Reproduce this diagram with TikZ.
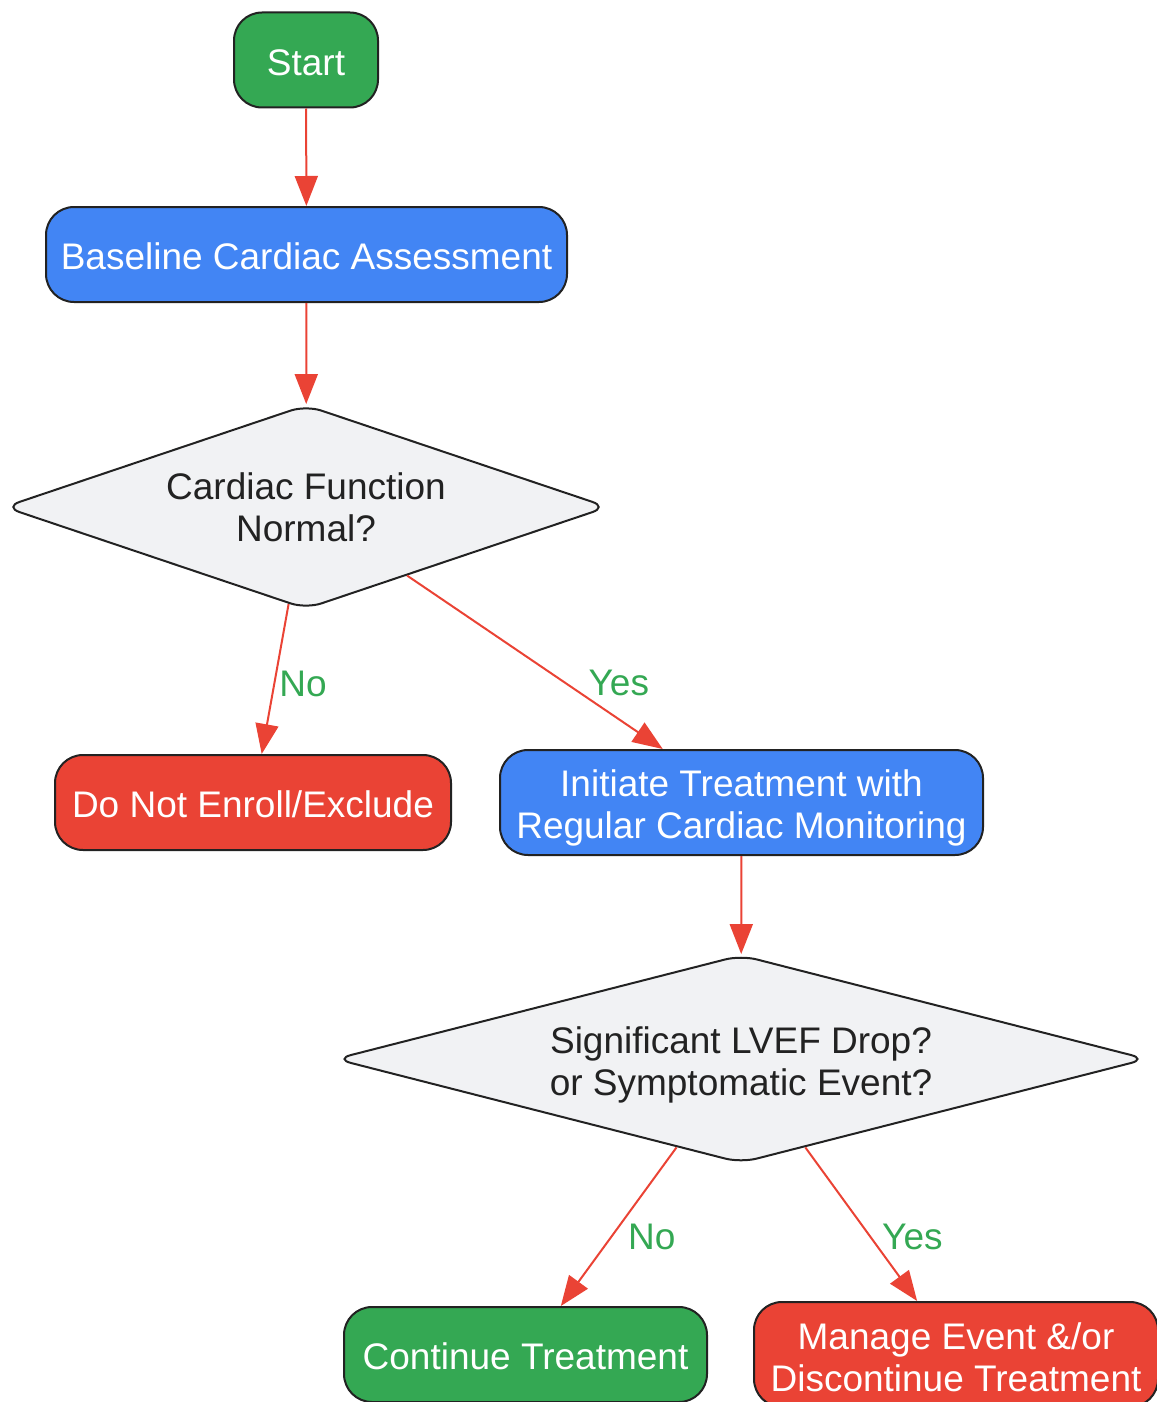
\documentclass[tikz,border=0pt]{standalone}
\usepackage{fontspec}
\setmainfont{Liberation Sans}
\usepackage{xcolor}
\usepackage{tikz}
\usetikzlibrary{arrows.meta, positioning, shapes.geometric}

\definecolor{startgreen}{HTML}{34A853}
\definecolor{stepblue}{HTML}{4285F4}
\definecolor{stopred}{HTML}{EA4335}
\definecolor{askgray}{HTML}{F1F2F4}
\definecolor{edgeline}{HTML}{222222}

\begin{document}
\begin{tikzpicture}[
				x=0.5pt, y=-0.5pt,
				every node/.style={align=center, inner sep=0pt, font=\fontsize{18.5pt}{21pt}\selectfont},
				lower/.style={execute at begin node={\rule{0pt}{#1}}},
				box/.style={draw=edgeline, line width=1pt, rectangle, rounded corners=14pt, text=white, minimum height=47.5pt, lower=15.5pt},
				question/.style={draw=edgeline, line width=1pt, diamond, aspect=4, rounded corners=8pt, fill=askgray, text=edgeline, lower=14.5pt},
				flow/.style={draw=stopred, line width=1pt, -{Triangle[length=15pt, width=11.5pt]}},
				answer/.style={text=startgreen}
				]
				\useasboundingbox (0,0) rectangle (1156,1402);
				\node[box, fill=startgreen, minimum width=72pt] (start) at (306,60) {Start};
				\node[box, fill=stepblue, minimum width=260.5pt] (baseline) at (306.5,254.5) {Baseline Cardiac Assessment};
				\node[question, minimum width=302pt, minimum height=102pt] (normal) at (306,507) {Cardiac Function\\Normal?};
				\node[box, fill=stopred, minimum width=198pt] (exclude) at (253,802.5) {Do Not Enroll/Exclude};
				\node[box, fill=stepblue, minimum width=241.5pt, minimum height=52.5pt] (initiate) at (741.5,802.5) {\rule{0pt}{18.5pt}Initiate Treatment with\\Regular Cardiac Monitoring};
				\node[question, minimum width=406pt, minimum height=104pt] (drop) at (741,1059) {\rule{0pt}{19.6pt}Significant LVEF Drop?\\or Symptomatic Event?};
				\node[box, fill=startgreen, minimum width=181.5pt] (continue) at (525.5,1354.5) {Continue Treatment};
				\node[box, fill=stopred, minimum width=202pt, minimum height=52.5pt] (manage) at (956,1354.5) {\rule{0pt}{16.5pt}Manage Event \&/or\\Discontinue Treatment};

				\draw[flow] (start) -- (baseline);
				\draw[flow] (baseline) -- (normal);
				\draw[flow] (normal) -- node[answer, pos=0.53, right=2pt] {No} (exclude);
				\draw[flow] (normal) -- node[answer, pos=0.62, right=11pt] {Yes} (initiate);
				\draw[flow] (initiate) -- (drop);
				\draw[flow] (drop) -- node[answer, pos=0.565, right=8pt] {No} (continue);
				\draw[flow] (drop) -- node[answer, pos=0.58, right=5.5pt] {Yes} (manage);
			\end{tikzpicture}
\end{document}
